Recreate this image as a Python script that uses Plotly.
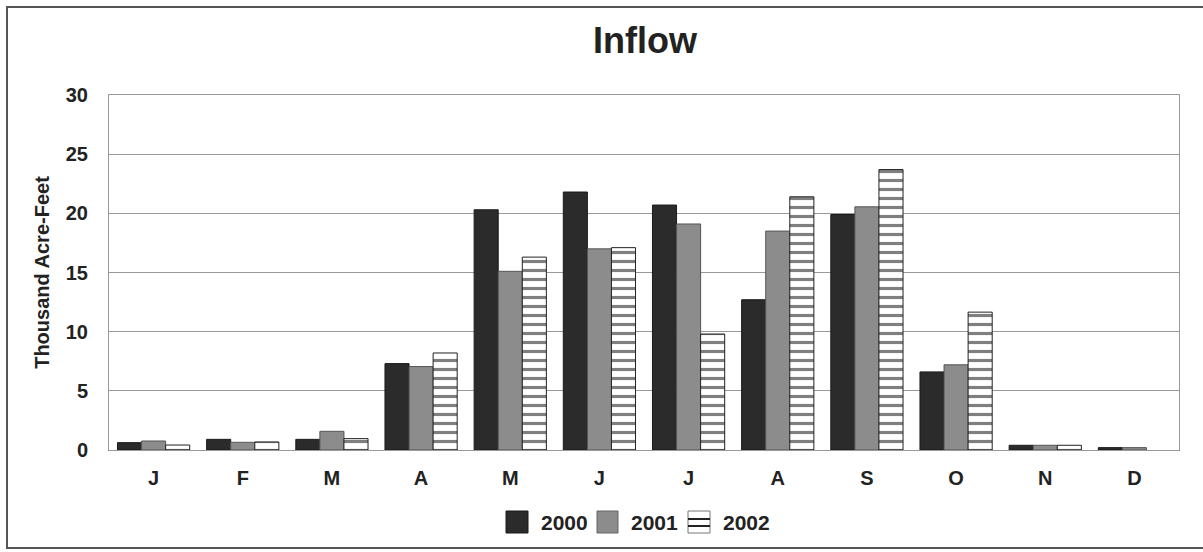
import plotly.graph_objects as go

months = ["J", "F", "M", "A", "M ", "J ", "J  ", "A ", "S", "O", "N", "D"]
month_labels = ["J", "F", "M", "A", "M", "J", "J", "A", "S", "O", "N", "D"]
years = ["2000", "2001", "2002"]
inflow_2000 = [0.62, 0.9, 0.9, 7.3, 20.3, 21.8, 20.7, 12.7, 19.9, 6.6, 0.4, 0.2]
inflow_2001 = [0.76, 0.65, 1.58, 7.05, 15.1, 17.0, 19.1, 18.5, 20.55, 7.2, 0.4, 0.2]
inflow_2002 = [0.42, 0.68, 0.96, 8.2, 16.3, 17.1, 9.8, 21.4, 23.7, 11.65, 0.4, None]
y_ticks = [0, 5, 10, 15, 20, 25, 30]

W, H = 1203, 552
L, R, T, B = 109, 1179, 95, 450

FONT = "Liberation Sans, Arial, sans-serif"
TXT = "#222222"
C2000, C2001 = "#2b2b2b", "#8c8c8c"


def px(xp):
    return (xp - L) / (R - L)


def py(yp):
    return (B - yp) / (B - T)


fig = go.Figure()
fig.add_trace(go.Bar(x=months, y=inflow_2000, name=years[0], showlegend=False,
                     marker=dict(color=C2000, line=dict(color="#1a1a1a", width=1))))
fig.add_trace(go.Bar(x=months, y=inflow_2001, name=years[1], showlegend=False,
                     marker=dict(color=C2001, line=dict(color="#555555", width=1))))
fig.add_trace(go.Bar(x=months, y=inflow_2002, name=years[2], showlegend=False,
                     marker=dict(color="white", line=dict(color="#222222", width=1),
                                 pattern=dict(shape="-", fgcolor="#000000", bgcolor="white",
                                              size=9, solidity=0.35))))

fig.update_layout(
    width=W, height=H,
    margin=dict(l=L, r=W - R, t=T, b=H - B, pad=0),
    paper_bgcolor="white", plot_bgcolor="white",
    barmode="group", bargap=0.19, bargroupgap=0.0,
    font=dict(family=FONT, color=TXT, size=20),
    title=dict(text="<b>Inflow</b>", x=px(645), xref="paper", xanchor="center",
               y=1 - 40 / H, yanchor="middle", font=dict(size=36, family=FONT, color=TXT)),
    showlegend=False,
)

fig.update_xaxes(
    tickmode="array", tickvals=months, ticktext=["<b>%s</b>" % m for m in month_labels],
    tickfont=dict(size=20, family=FONT, color=TXT),
    showline=True, linecolor="#999999", linewidth=1, mirror=True,
    ticks="", ticklen=0, showgrid=False, ticklabelstandoff=10,
)
fig.update_yaxes(
    range=[0, 30], tickmode="array", tickvals=y_ticks,
    ticktext=["<b>%d</b>" % v for v in y_ticks],
    tickfont=dict(size=20, family=FONT, color=TXT),
    showgrid=True, gridcolor="#999999", gridwidth=1,
    showline=True, linecolor="#999999", linewidth=1, mirror=True,
    zeroline=False, ticks="", ticklabelstandoff=16,
    title=dict(text="<b>Thousand Acre-Feet</b>", font=dict(size=20, family=FONT, color=TXT),
               standoff=10),
)

# outer frame
fig.add_shape(type="rect", xref="paper", yref="paper",
              x0=px(7), x1=px(1215), y0=py(548), y1=py(7),
              line=dict(color="#555555", width=2), fillcolor="rgba(0,0,0,0)", layer="below")

# custom legend (larger swatches like the original)
leg_y0, leg_y1 = 511, 533
swatches = [(506, 528, C2000, "#1a1a1a"), (597, 618, C2001, "#666666"), (688, 710, "white", "#777777")]
text_x = [539, 629, 721]
for (x0, x1, fill, edge), tx, yr in zip(swatches, text_x, years):
    fig.add_shape(type="rect", xref="paper", yref="paper",
                  x0=px(x0), x1=px(x1), y0=py(leg_y1), y1=py(leg_y0),
                  line=dict(color=edge, width=1), fillcolor=fill)
    fig.add_annotation(text="<b>%s</b>" % yr, xref="paper", yref="paper",
                       x=px(tx), y=py(522), xanchor="left", yanchor="middle", showarrow=False,
                       font=dict(size=21, family=FONT, color=TXT))
for ly in (519, 526):
    fig.add_shape(type="line", xref="paper", yref="paper",
                  x0=px(688), x1=px(710), y0=py(ly), y1=py(ly),
                  line=dict(color="#222222", width=2))

fig.write_html("out.html", config={"displayModeBar": False},
               post_script="document.body.style.margin='0';")
